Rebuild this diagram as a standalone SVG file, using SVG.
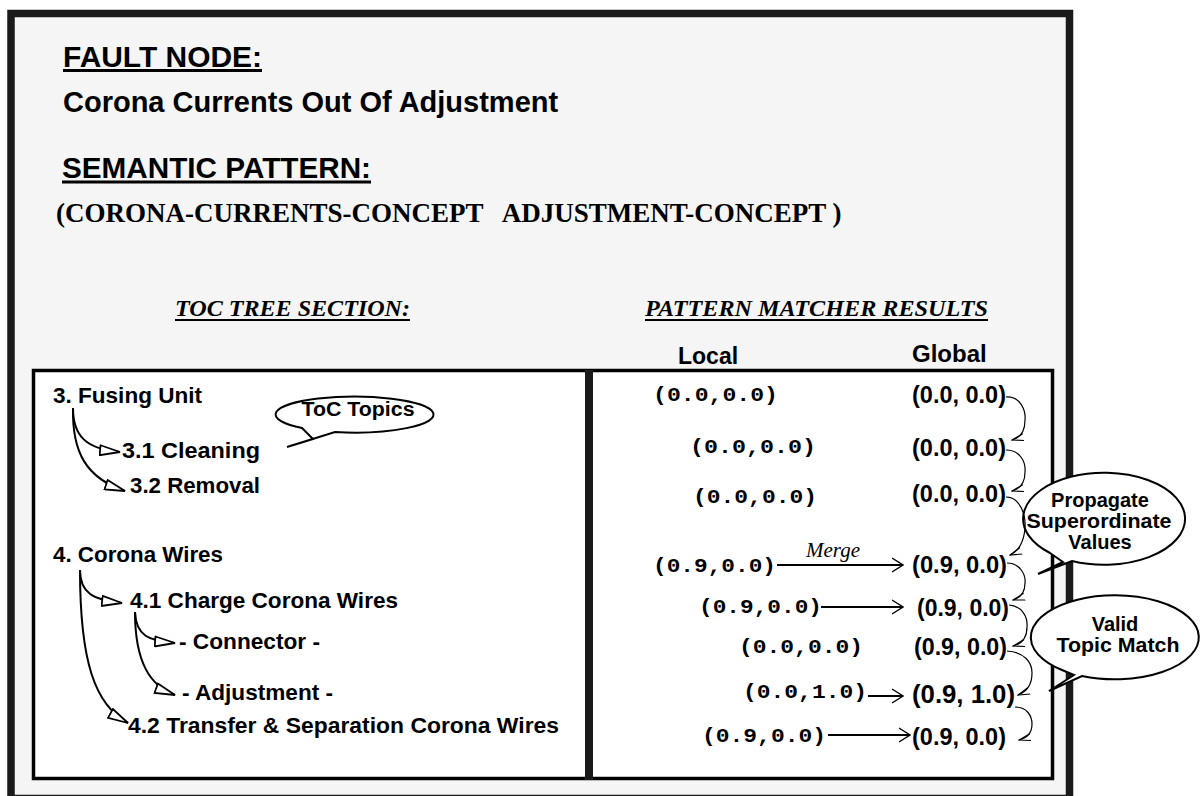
<svg xmlns="http://www.w3.org/2000/svg" width="1202" height="796" viewBox="0 0 1202 796">
<defs>
<style>
.sb{font-family:"Liberation Sans",Arial,sans-serif;font-weight:bold;fill:#000}
.sf{font-family:"Liberation Serif","Times New Roman",serif;font-weight:bold;fill:#000}
.si{font-family:"Liberation Serif","Times New Roman",serif;font-weight:bold;font-style:italic;fill:#000}
.mg{font-family:"Liberation Serif","Times New Roman",serif;font-weight:normal;font-style:italic;fill:#000;font-size:21px}
.mo{font-family:"Liberation Mono","DejaVu Sans Mono",monospace;font-weight:bold;fill:#000;font-size:21px}
.gl{font-size:24px}
.tr{font-size:22px}
.bt{font-size:20px}
.tc{fill:none;stroke:#000;stroke-width:2}
.ha{fill:none;stroke:#000;stroke-width:1.8}
.ca{fill:none;stroke:#000;stroke-width:1.2}
.bub{fill:#fff;stroke:#000;stroke-width:2}
</style>
<marker id="tri" viewBox="0 0 22 12" refX="21" refY="6" markerWidth="22" markerHeight="12" orient="auto" markerUnits="userSpaceOnUse">
<path d="M1,1 L21,6 L1,11 Z" fill="#fff" stroke="#000" stroke-width="1.8"/>
</marker>
<marker id="bv" viewBox="0 0 12 16" refX="11" refY="8" markerWidth="12" markerHeight="16" orient="auto" markerUnits="userSpaceOnUse">
<path d="M0,1 L11,8 L0,15" fill="none" stroke="#000" stroke-width="1.4"/>
</marker>
<marker id="sv" viewBox="0 0 13 9" refX="12" refY="4.5" markerWidth="13" markerHeight="9" orient="auto" markerUnits="userSpaceOnUse">
<path d="M0,1 L12,4.5 L0,8" fill="none" stroke="#000" stroke-width="1.1"/>
</marker>
</defs>

<rect x="0" y="0" width="1202" height="796" fill="#fff"/>
<rect id="frame" x="11" y="13.5" width="1058.5" height="785" fill="#f5f5f5" stroke="#1a1a1a" stroke-width="7.5"/>

<g id="header">
<text class="sb" x="63" y="67" font-size="29" textLength="199" lengthAdjust="spacingAndGlyphs">FAULT NODE:</text>
<rect x="63" y="69" width="199" height="3" fill="#000"/>
<text class="sb" x="63" y="112" font-size="29">Corona Currents Out Of Adjustment</text>
<text class="sb" x="62" y="178" font-size="29" textLength="309" lengthAdjust="spacingAndGlyphs">SEMANTIC PATTERN:</text>
<rect x="62" y="180.5" width="309" height="3" fill="#000"/>
<text class="sf" x="56" y="222" font-size="27" xml:space="preserve">(CORONA-CURRENTS-CONCEPT   ADJUSTMENT-CONCEPT )</text>
<text class="si" x="175" y="316" font-size="24" textLength="235" lengthAdjust="spacingAndGlyphs">TOC TREE SECTION:</text>
<rect x="175" y="319" width="235" height="2" fill="#000"/>
<text class="si" x="645" y="316" font-size="24" textLength="343" lengthAdjust="spacingAndGlyphs">PATTERN MATCHER RESULTS</text>
<rect x="645" y="319" width="343" height="2" fill="#000"/>
<text class="sb" x="678" y="364" font-size="23">Local</text>
<text class="sb" x="912" y="362" font-size="24">Global</text>
</g>

<g id="panels">
<rect x="33.5" y="370.5" width="1019" height="408" fill="#fff" stroke="#000" stroke-width="3.5"/>
<rect x="585" y="370" width="8" height="410" fill="#1a1a1a"/>
</g>

<g id="toc-tree">
<g id="n3"><text class="sb tr" x="53" y="403" textLength="149" lengthAdjust="spacingAndGlyphs">3. Fusing Unit</text></g>
<g id="n31"><text class="sb tr" x="122" y="458" textLength="138" lengthAdjust="spacingAndGlyphs">3.1 Cleaning</text></g>
<g id="n32"><text class="sb tr" x="130" y="493" textLength="130" lengthAdjust="spacingAndGlyphs">3.2 Removal</text></g>
<g id="n4"><text class="sb tr" x="53" y="562" textLength="170" lengthAdjust="spacingAndGlyphs">4. Corona Wires</text></g>
<g id="n41"><text class="sb tr" x="130" y="608" textLength="268" lengthAdjust="spacingAndGlyphs">4.1 Charge Corona Wires</text></g>
<g id="nconn"><text class="sb tr" x="179" y="649" textLength="141" lengthAdjust="spacingAndGlyphs">- Connector -</text></g>
<g id="nadj"><text class="sb tr" x="182" y="700" textLength="151" lengthAdjust="spacingAndGlyphs">- Adjustment -</text></g>
<g id="n42"><text class="sb tr" x="128" y="733" textLength="431" lengthAdjust="spacingAndGlyphs">4.2 Transfer &amp; Separation Corona Wires</text></g>
</g>

<g id="local-values">
<text class="mo" x="653" y="401" textLength="125" lengthAdjust="spacingAndGlyphs">(0.0,0.0)</text>
<text class="mo" x="690" y="453" textLength="126" lengthAdjust="spacingAndGlyphs">(0.0,0.0)</text>
<text class="mo" x="693" y="503" textLength="124" lengthAdjust="spacingAndGlyphs">(0.0,0.0)</text>
<text class="mo" x="653" y="572" textLength="123" lengthAdjust="spacingAndGlyphs">(0.9,0.0)</text>
<text class="mo" x="699" y="613" textLength="123" lengthAdjust="spacingAndGlyphs">(0.9,0.0)</text>
<text class="mo" x="739" y="653" textLength="124" lengthAdjust="spacingAndGlyphs">(0.0,0.0)</text>
<text class="mo" x="743" y="698" textLength="124" lengthAdjust="spacingAndGlyphs">(0.0,1.0)</text>
<text class="mo" x="702" y="742" textLength="124" lengthAdjust="spacingAndGlyphs">(0.9,0.0)</text>
</g>

<g id="global-values">
<text class="sb gl" x="912" y="403" textLength="94" lengthAdjust="spacingAndGlyphs">(0.0, 0.0)</text>
<text class="sb gl" x="912" y="456" textLength="94" lengthAdjust="spacingAndGlyphs">(0.0, 0.0)</text>
<text class="sb gl" x="912" y="502" textLength="94" lengthAdjust="spacingAndGlyphs">(0.0, 0.0)</text>
<text class="sb gl" x="912" y="573" textLength="95" lengthAdjust="spacingAndGlyphs">(0.9, 0.0)</text>
<text class="sb gl" x="917" y="616" textLength="92" lengthAdjust="spacingAndGlyphs">(0.9, 0.0)</text>
<text class="sb gl" x="914" y="655" textLength="93" lengthAdjust="spacingAndGlyphs">(0.9, 0.0)</text>
<text class="sb" x="912" y="703" font-size="26" textLength="103" lengthAdjust="spacingAndGlyphs">(0.9, 1.0)</text>
<text class="sb gl" x="912" y="745" textLength="94" lengthAdjust="spacingAndGlyphs">(0.9, 0.0)</text>
</g>

<g id="connectors">
<path class="tc" marker-end="url(#tri)" d="M73,408 C73,436 86,449 120,452"/>
<path class="tc" marker-end="url(#tri)" d="M73,408 C72,452 86,478 125,491"/>
<path class="tc" marker-end="url(#tri)" d="M80,570 C80,593 93,600 122,603"/>
<path class="tc" marker-end="url(#tri)" d="M135,612 C136,636 149,641 175,643"/>
<path class="tc" marker-end="url(#tri)" d="M135,612 C135,662 150,686 175,695"/>
<path class="tc" marker-end="url(#tri)" d="M80,570 C80,662 95,705 128,723"/>
<path class="ha" marker-end="url(#bv)" d="M777,565 L903,565"/>
<path class="ha" marker-end="url(#bv)" d="M821,607 L903,607"/>
<path class="ha" marker-end="url(#bv)" d="M868,696 L903,696"/>
<path class="ha" marker-end="url(#bv)" d="M828,735 L910,735"/>
<path class="ca" marker-end="url(#sv)" d="M1006,397 C1020,396 1026,410 1025,420 C1025,431 1020,438 1012,440"/>
<path class="ca" marker-end="url(#sv)" d="M1006,450 C1020,450 1026,462 1025,472 C1025,483 1020,489 1012,491"/>
<path class="ca" marker-end="url(#sv)" d="M1007,563 C1020,563 1026,575 1025,583 C1025,593 1020,598 1013,600"/>
<path class="ca" marker-end="url(#sv)" d="M1009,605 C1022,606 1028,617 1027,627 C1027,638 1021,644 1013,646"/>
<path class="ca" marker-end="url(#sv)" d="M1007,651 C1024,652 1032,662 1032,673 C1032,685 1026,692 1018,695"/>
<path class="ca" marker-end="url(#sv)" d="M1015,707 C1027,707 1032,716 1032,724 C1032,733 1027,738 1019,740"/>
<text class="mg" x="806" y="557">Merge</text>
</g>

<g id="bubble-toc">
<path class="bub" d="M302,428 L313,439 L287,447 L335,432 A79,18 0 1,0 302,428 Z"/>
<text class="sb bt" x="358" y="416" text-anchor="middle" textLength="113" lengthAdjust="spacingAndGlyphs">ToC Topics</text>
</g>

<g id="bubble-propagate">
<path class="bub" d="M1050,553 L1063,562 L1038,574 L1072,561 A81,46 0 1,0 1050,553 Z"/>
<text class="sb bt" x="1100" y="507" text-anchor="middle">Propagate</text>
<text class="sb bt" x="1099" y="528" text-anchor="middle" textLength="145" lengthAdjust="spacingAndGlyphs">Superordinate</text>
<text class="sb bt" x="1100" y="549" text-anchor="middle">Values</text>
</g>
<path class="ca" marker-end="url(#sv)" d="M1006,497 C1020,497 1026,515 1025,528 C1024,542 1018,552 1010,555"/>

<g id="bubble-valid">
<path class="bub" d="M1062,670 L1074,675 L1049,691 L1082,676 A84,42 0 1,0 1062,670 Z"/>
<text class="sb bt" x="1115" y="631" text-anchor="middle">Valid</text>
<text class="sb bt" x="1118" y="652" text-anchor="middle" textLength="123" lengthAdjust="spacingAndGlyphs">Topic Match</text>
</g>
</svg>
